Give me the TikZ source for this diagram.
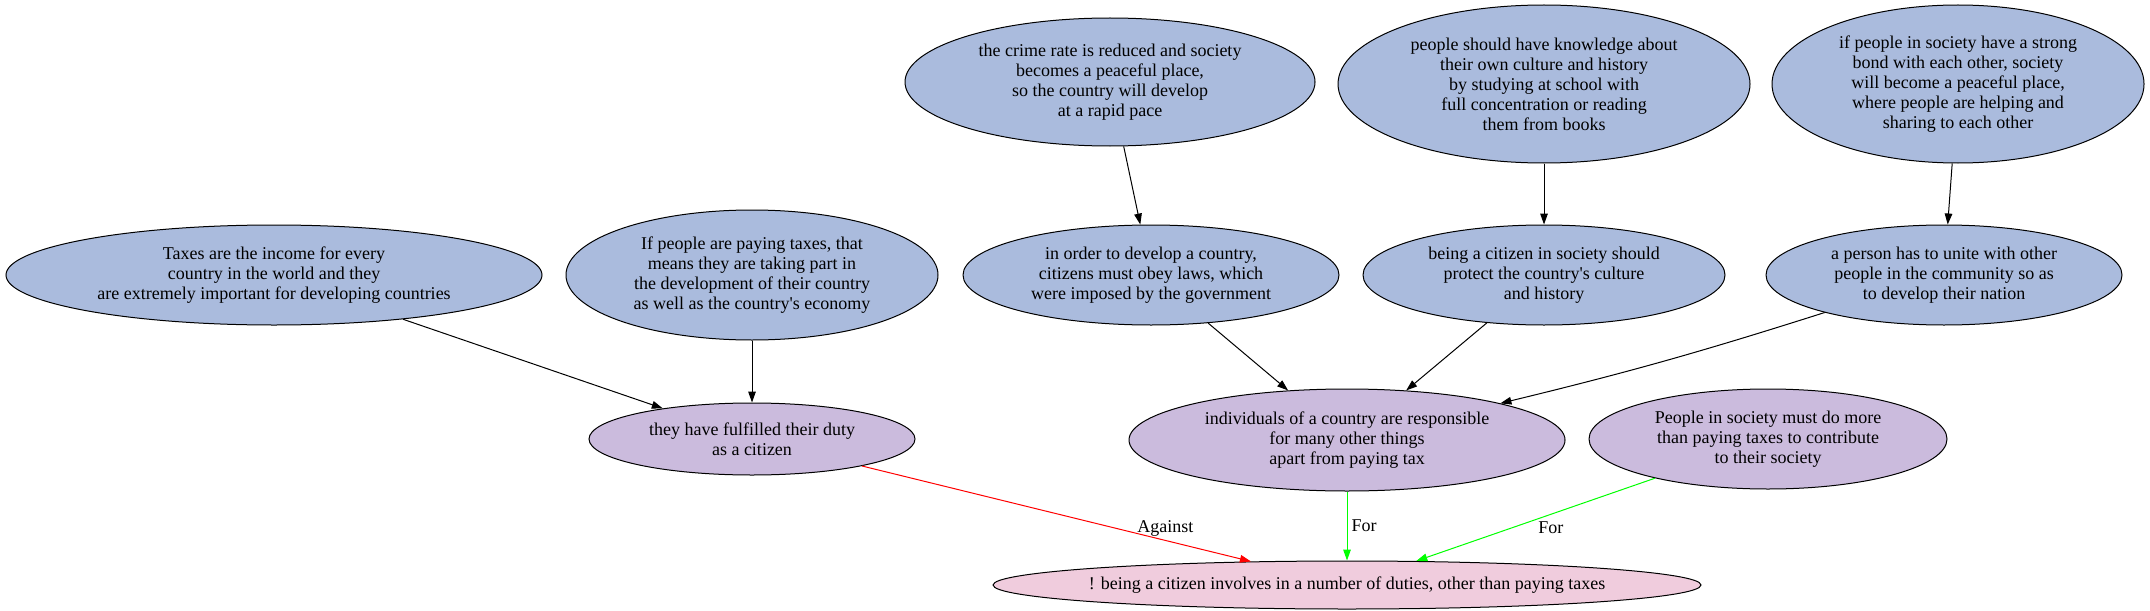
\documentclass[tikz,border=0pt]{standalone}
\usepackage{fontspec}
\setmainfont{Liberation Serif}
\usetikzlibrary{shapes.geometric,arrows.meta}
\definecolor{reasonblue}{HTML}{AABBDD}
\definecolor{claimlilac}{HTML}{CBBBDD}
\definecolor{thesispink}{HTML}{F0CCDD}
\definecolor{forgreen}{HTML}{00FF00}
\definecolor{againstred}{HTML}{FF0000}
\begin{document}
\begin{tikzpicture}[x=0.5pt, y=-0.5pt,
    every node/.style={font=\fontsize{9}{10}\selectfont, align=center},
    arg/.style={ellipse, draw, line width=0.5pt, inner sep=0pt},
    reason/.style={arg, fill=reasonblue},
    claim/.style={arg, fill=claimlilac},
    thesis/.style={arg, fill=thesispink},
    link/.style={line width=0.5pt, -{Triangle[length=5.5pt,width=3.8pt]}},
    tag/.style={text=black, inner sep=2pt}]
        \useasboundingbox (0,0) rectangle (2150,610);

        % top row
        \node[reason, minimum width=205pt, minimum height=64pt] (crime) at (1110,82) {the crime rate is reduced and society\\becomes a peaceful place,\\so the country will develop\\at a rapid pace};
        \node[reason, minimum width=206pt, minimum height=79pt] (know) at (1544,84) {people should have knowledge about\\their own culture and history\\by studying at school with\\full concentration or reading\\them from books};
        \node[reason, minimum width=186pt, minimum height=79pt] (bond) at (1958,84) {if people in society have a strong\\bond with each other, society\\will become a peaceful place,\\where people are helping and\\sharing to each other};

        % second row
        \node[reason, minimum width=268pt, minimum height=50pt] (taxes) at (274,275) {Taxes are the income for every\\country in the world and they\\are extremely important for developing countries};
        \node[reason, minimum width=186pt, minimum height=65pt] (ifpay) at (752,275) {If people are paying taxes, that\\means they are taking part in\\the development of their country\\as well as the country\textquotesingle s economy};
        \node[reason, minimum width=188pt, minimum height=50pt] (order) at (1151,275) {in order to develop a country,\\citizens must obey laws, which\\were imposed by the government};
        \node[reason, minimum width=181pt, minimum height=50pt] (protect) at (1544,275) {being a citizen in society should\\protect the country\textquotesingle s culture\\and history};
        \node[reason, minimum width=178pt, minimum height=50pt] (unite) at (1944,275) {a person has to unite with other\\people in the community so as\\to develop their nation};

        % claims
        \node[claim, minimum width=163pt, minimum height=36pt] (duty) at (752,439) {they have fulfilled their duty\\as a citizen};
        \node[claim, minimum width=218pt, minimum height=51pt] (resp) at (1347,440) {individuals of a country are responsible\\for many other things\\apart from paying tax};
        \node[claim, minimum width=179pt, minimum height=50pt] (more) at (1768,439) {People in society must do more\\than paying taxes to contribute\\to their society};

        \node[thesis, inner xsep=-12pt, minimum width=354pt, minimum height=24pt] (main) at (1347,585) {! being a citizen involves in a number of duties, other than paying taxes};

        \draw[link] (crime) -- (order);
        \draw[link] (know) -- (protect);
        \draw[link] (bond) -- (unite);
        \draw[link] (taxes) -- (duty);
        \draw[link] (ifpay) -- (duty);
        \draw[link] (order) -- (resp);
        \draw[link] (protect) -- (resp);
        \draw[link] (unite) to[bend left=2] (resp);

        \draw[link, againstred] (duty) -- node[tag, pos=0.78, above] {Against} (main);
        \draw[link, forgreen] (resp) -- node[tag, right] {For} (main);
        \draw[link, forgreen] (more) -- node[tag, pos=0.6, right=11pt] {For} (main);
      \end{tikzpicture}
\end{document}
